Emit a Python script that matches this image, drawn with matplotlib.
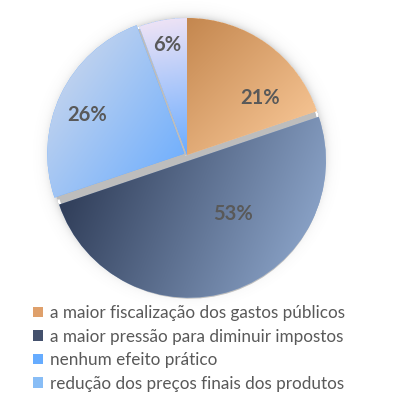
import numpy as np
import matplotlib.pyplot as plt
from matplotlib.patches import Patch

# data
labels = ['a maior fiscalização dos gastos públicos',
          'a maior pressão para diminuir impostos',
          'nenhum efeito prático',
          'redução dos preços finais dos produtos']
values = [21, 53, 26, 6]
pct_labels = ['21%', '53%', '26%', '6%']

# styling
grad_colors = [('#C4874F', '#FDCD9D'),
               ('#24304A', '#96B0D6'),
               ('#D6DCEA', '#67ABFF'),
               ('#F3E5F5', '#6AACFF')]
grad_angles = [-45, -22, -35, -80]
legend_colors = ['#DFA06B', '#44516D', '#66ACFF', '#88BDF6']
explode = [0, 6, 3, 0]
label_xy = [(260, 98), (233, 214), (87, 115), (167, 45)]  # pixel positions of the % labels
text_color = '#595959'

W, H = 403, 398
fig = plt.figure(figsize=(W / 100, H / 100), dpi=100)
ax = fig.add_axes([0, 0, 1, 1])
ax.axis('off')

cx, cy, R = 187, H - 155, 137

# soft glow / shadow around the pie
yy, xx = np.mgrid[0:H, 0:W] + 0.5
d = np.hypot(xx - cx, yy - cy) - R
glow = np.zeros((H, W, 4))
glow[..., :3] = 0.5
glow[..., 3] = np.where(d > 0, 0.3 * np.exp(-d / 4.0), 0)
ax.imshow(glow, extent=(0, W, 0, H), origin='lower', zorder=0)

# gray shadow pies (show through the gaps between slices)
for off, expl in [((0, 0), [0] * 4), ((1, -3), explode)]:
    sh, _ = ax.pie(values, center=(cx + off[0], cy + off[1]), radius=R - 2,
                   startangle=90, counterclock=False, explode=expl,
                   colors=['#BDBDBD'] * 4, wedgeprops=dict(linewidth=0))
    for w in sh:
        w.set_zorder(0.5)

wedges, _ = ax.pie(values, center=(cx, cy), radius=R, startangle=90,
                   counterclock=False, explode=explode,
                   colors=[c[1] for c in grad_colors],
                   wedgeprops=dict(linewidth=0))


def fill_gradient(wedge, c0, c1, angle):
    ext = wedge.get_path().get_extents()
    x0, y0, x1, y1 = ext.x0, ext.y0, ext.x1, ext.y1
    gy, gx = np.mgrid[y0:y1:200j, x0:x1:200j]
    a = np.deg2rad(angle)
    p = gx * np.cos(a) + gy * np.sin(a)
    t = (p - p.min()) / (p.max() - p.min())
    c0 = np.array(plt.matplotlib.colors.to_rgb(c0))
    c1 = np.array(plt.matplotlib.colors.to_rgb(c1))
    img = c0 * (1 - t[..., None]) + c1 * t[..., None]
    im = ax.imshow(img, extent=(x0, x1, y0, y1), origin='lower',
                   interpolation='bilinear', zorder=1.5)
    im.set_clip_path(wedge)


for w, (c0, c1), ang in zip(wedges, grad_colors, grad_angles):
    w.set_zorder(1)
    fill_gradient(w, c0, c1, ang)

ax.set_xlim(0, W)
ax.set_ylim(0, H)
ax.set_aspect('auto')

for txt, (x, y) in zip(pct_labels, label_xy):
    ax.text(x, H - y, txt, ha='center', va='center', fontsize=14.5,
            fontweight='bold', color=text_color, family='Lato', zorder=3)

handles = [Patch(facecolor=c, edgecolor='none') for c in legend_colors]
fig.legend(handles, labels, loc='upper left', bbox_to_anchor=(33 / W, 1 - 305 / H),
           frameon=False, borderpad=0, borderaxespad=0,
           handlelength=0.6, handleheight=0.6, handletextpad=0.42,
           labelspacing=0.44, labelcolor=text_color, prop=dict(family='Lato', size=12.3))

plt.savefig('out.png', dpi=100)
